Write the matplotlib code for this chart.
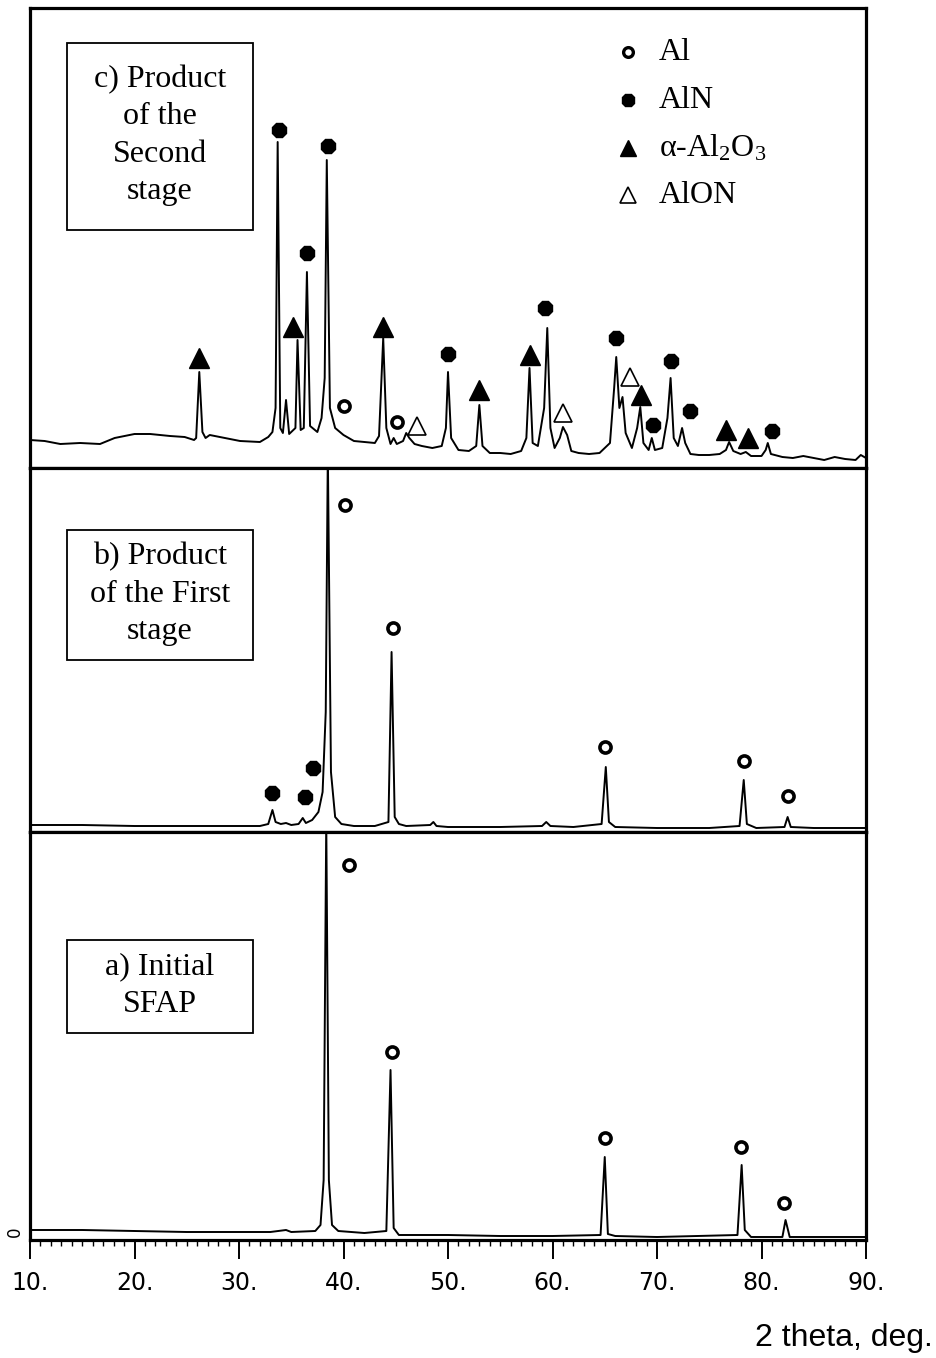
import matplotlib
matplotlib.use("Agg")
import matplotlib.pyplot as plt
from matplotlib.patches import Rectangle
from matplotlib.ticker import MultipleLocator, FixedLocator

plt.rcParams['mathtext.fontset'] = 'custom'
plt.rcParams['mathtext.rm'] = 'Liberation Serif'
plt.rcParams['mathtext.it'] = 'Liberation Serif:italic'

# ---- data read from the scanned patterns (2theta, intensity a.u.) ----
# c) product of the second stage
c_theta = [10.0, 11.4, 12.9, 14.8, 16.7, 18.1, 20.0, 21.5, 23.4, 24.8, 25.7, 25.9, 26.2, 26.5, 26.8,
           27.2, 30.1, 32.0, 32.8, 33.2, 33.5, 33.7, 33.95, 34.2, 34.5, 34.8, 35.4, 35.6, 35.9, 36.2,
           36.5, 36.8, 37.5, 37.9, 38.2, 38.4, 38.7, 39.2, 40.0, 41.0, 42.0, 43.0, 43.4, 43.8, 44.1,
           44.5, 44.8, 45.1, 45.7, 46.0, 46.3, 46.8, 47.5, 48.5, 49.4, 49.8, 50.0, 50.3, 51.0, 52.0,
           52.7, 53.0, 53.3, 54.0, 55.0, 56.0, 57.0, 57.5, 57.8, 58.1, 58.6, 59.2, 59.5, 59.8, 60.2,
           60.7, 61.0, 61.4, 61.8, 62.5, 63.5, 64.5, 65.5, 65.9, 66.1, 66.4, 66.7, 67.0, 67.6, 68.1,
           68.4, 68.7, 69.2, 69.5, 69.8, 70.5, 71.0, 71.3, 71.6, 72.0, 72.4, 72.7, 73.2, 74.0, 75.0,
           76.0, 76.6, 76.9, 77.3, 78.0, 78.5, 79.0, 80.0, 80.4, 80.6, 80.9, 82.0, 83.0, 84.0, 85.0,
           86.0, 87.0, 88.0, 89.0, 89.5, 90.0]
c_int = [28, 27, 24, 25, 24, 30, 34, 34, 32, 31, 28, 30, 96, 36, 30,
         33, 27, 26, 31, 36, 60, 326, 40, 35, 68, 34, 40, 128, 38, 40,
         196, 42, 36, 50, 90, 308, 60, 40, 33, 27, 26, 25, 32, 130, 40,
         24, 30, 24, 27, 35, 30, 24, 22, 20, 22, 40, 96, 30, 18, 17,
         22, 63, 22, 15, 15, 14, 17, 30, 100, 25, 22, 60, 140, 40, 20,
         30, 41, 33, 17, 15, 14, 15, 25, 80, 111, 60, 71, 35, 20, 40,
         61, 25, 18, 30, 18, 20, 50, 90, 30, 22, 40, 25, 14, 13, 13,
         14, 18, 26, 17, 14, 16, 12, 12, 18, 25, 14, 11, 10, 12, 10,
         8, 11, 9, 8, 13, 10]

# b) product of the first stage
b_theta = [10, 15, 20, 25, 30, 32.0, 32.8, 33.2, 33.5, 34.0, 34.5, 35.0, 35.7, 36.1, 36.4, 37.0,
           37.6, 38.0, 38.3, 38.5, 38.8, 39.2, 39.8, 41, 43.0, 44.3, 44.6, 44.9, 45.3, 46, 48.3,
           48.6, 48.9, 50, 55, 59.0, 59.4, 59.8, 62, 64.7, 65.1, 65.4, 66, 70, 75, 77.9, 78.3, 78.6,
           79.5, 82.2, 82.5, 82.8, 85, 90]
b_int = [7, 7, 6, 6, 6, 6, 8, 22, 10, 8, 9, 7, 8, 14, 9, 12,
         20, 40, 120, 380, 60, 15, 8, 6, 6, 10, 180, 15, 8, 6, 7,
         10, 6, 5, 5, 6, 10, 6, 5, 8, 65, 10, 5, 4, 4, 6, 52, 8,
         4, 5, 15, 5, 4, 4]

# a) initial SFAP
a_theta = [10, 15, 20, 25, 30, 33, 34.5, 35.0, 37.3, 37.8, 38.1, 38.35, 38.6, 38.9, 39.5, 42,
           44.1, 44.5, 44.8, 45.3, 50, 55, 60, 64.6, 65.0, 65.3, 66, 70, 77.7, 78.1, 78.4, 79,
           82.0, 82.3, 82.7, 85, 90]
a_int = [10, 10, 9, 8, 8, 8, 10, 8, 9, 15, 60, 420, 60, 15, 9, 7,
         9, 170, 12, 5, 5, 4, 4, 5, 83, 6, 4, 3, 5, 75, 10, 3,
         3, 20, 3, 3, 3]

# phase labels: (2theta, label height)
c_al = [(40.0, 62), (45.1, 46)]
c_aln = [(33.8, 338), (38.5, 322), (36.5, 215), (50.0, 114), (59.3, 160), (66.1, 130),
         (69.6, 43), (71.3, 107), (73.2, 57), (81.0, 37)]
c_al2o3 = [(26.2, 110), (35.2, 141), (43.8, 141), (53.0, 78), (57.8, 113), (68.5, 73),
           (76.6, 38), (78.7, 30)]
c_alon = [(47.0, 42), (61.0, 55), (67.4, 91)]

b_al = [(40.1, 327), (44.7, 204), (65.0, 85), (78.3, 71), (82.5, 36)]
b_aln = [(33.2, 39), (36.3, 35), (37.1, 64)]

a_al = [(40.5, 375), (44.6, 188), (65.0, 102), (78.0, 93), (82.2, 37)]

phase_names = ['Al', 'AlN', 'α-Al$_2$O$_3$', 'AlON']
panel_texts = ['c) Product\nof the\nSecond\nstage', 'b) Product\nof the First\nstage', 'a) Initial\nSFAP']
tick_vals = [10, 20, 30, 40, 50, 60, 70, 80, 90]
tick_labels = ['10.', '20.', '30.', '40.', '50.', '60.', '70.', '80.', '90.']

# ---- figure ----
W, H = 936, 1358
fig = plt.figure(figsize=(W / 100, H / 100), dpi=100)


def fx(px):
    return px / W


def fy(py):
    return 1 - py / H


left, right = 30, 866
bounds = [(8, 468, 460), (468, 832, 364), (832, 1240, 408)]  # top, bottom, ylim
axes = []
for top, bot, ymax in bounds:
    ax = fig.add_axes([fx(left), fy(bot), fx(right) - fx(left), (bot - top) / H])
    ax.set_xlim(10, 90)
    ax.set_ylim(0, ymax)
    ax.set_yticks([])
    for s in ax.spines.values():
        s.set_linewidth(2.3)
    axes.append(ax)

ax_c, ax_b, ax_a = axes

styles = {
    'al': dict(marker='o', ms=8, mfc='white', mec='black', mew=2.6, ls='none'),
    'aln': dict(marker='8', ms=11, mfc='black', mec='black', ls='none'),
    'al2o3': dict(marker='^', ms=14, mfc='black', mec='black', ls='none'),
    'alon': dict(marker='^', ms=13, mfc='white', mec='black', mew=1.2, ls='none'),
}


def mark(ax, pts, key):
    ax.plot([p[0] for p in pts], [p[1] for p in pts], **styles[key])


ax_c.plot(c_theta, c_int, color='black', lw=1.4)
mark(ax_c, c_al, 'al')
mark(ax_c, c_aln, 'aln')
mark(ax_c, c_al2o3, 'al2o3')
mark(ax_c, c_alon, 'alon')

ax_b.plot(b_theta, b_int, color='black', lw=1.4)
mark(ax_b, b_al, 'al')
mark(ax_b, b_aln, 'aln')

ax_a.plot(a_theta, a_int, color='black', lw=1.4)
mark(ax_a, a_al, 'al')

# legend inside the top panel
for i, (key, name) in enumerate(zip(['al', 'aln', 'al2o3', 'alon'], phase_names)):
    yy = [0.904, 0.80, 0.696, 0.593][i]
    st = dict(styles[key])
    if key == 'al':
        st.update(ms=7, mew=2.4)
    elif key == 'aln':
        st.update(ms=10)
    elif key == 'al2o3':
        st.update(ms=12)
    else:
        st.update(ms=11)
    ax_c.plot([0.715], [yy], transform=ax_c.transAxes, clip_on=False, **st)
    ax_c.text(0.752, yy, name, transform=ax_c.transAxes, va='center', ha='left',
              family='Liberation Serif', fontsize=23)

for ax in (ax_c, ax_b):
    ax.tick_params(axis='x', which='both', bottom=False, labelbottom=False)

ax_a.xaxis.set_major_locator(FixedLocator(tick_vals))
ax_a.set_xticklabels(tick_labels, family=['Liberation Sans Narrow', 'DejaVu Sans'], fontsize=17)
ax_a.xaxis.set_minor_locator(MultipleLocator(1))
ax_a.tick_params(axis='x', which='major', direction='out', length=14, width=1.4, pad=8)
ax_a.tick_params(axis='x', which='minor', direction='out', length=4, width=1.0)

# panel captions in boxes
boxes = [(67, 43, 253, 230), (67, 530, 253, 660), (67, 940, 253, 1033)]
for (x0, y0, x1, y1), txt in zip(boxes, panel_texts):
    fig.patches.append(Rectangle((fx(x0), fy(y1)), fx(x1) - fx(x0), (y1 - y0) / H,
                                 transform=fig.transFigure, fill=False, ec='black', lw=1.3))
    fig.text(fx((x0 + x1) / 2), fy((y0 + y1) / 2 - 1), txt, ha='center', va='center',
             family='Liberation Serif', fontsize=23, linespacing=1.38)

fig.text(fx(15), fy(1232), '0', rotation=90, ha='center', va='center', fontsize=12,
         family='DejaVu Sans')
fig.text(0.996, fy(1338), '2 theta, deg.', ha='right', va='center',
         family='Liberation Sans', fontsize=23)

fig.savefig('out.png', dpi=100)
